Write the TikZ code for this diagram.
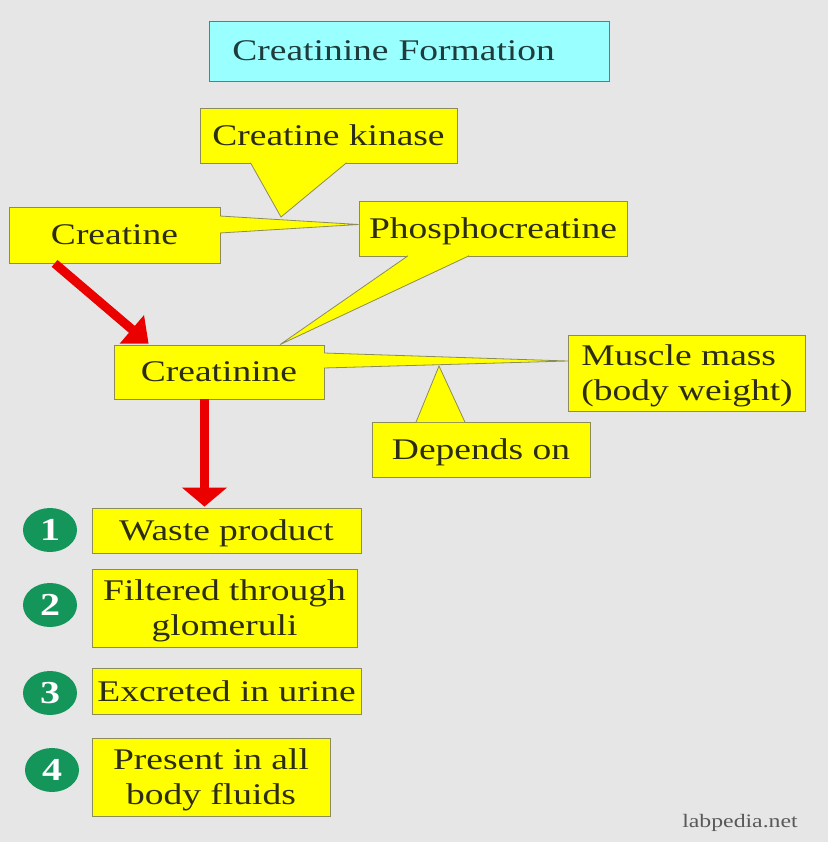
\documentclass[tikz,border=0pt]{standalone}
\usepackage{fontspec}
\setmainfont{Liberation Serif}[FakeStretch=1.25]
\usetikzlibrary{arrows.meta,shapes.geometric}
\definecolor{slidebg}{RGB}{230,230,230}
\definecolor{callfill}{RGB}{255,255,0}
\definecolor{callline}{RGB}{140,140,90}
\definecolor{titlefill}{RGB}{153,255,255}
\definecolor{titleline}{RGB}{95,125,125}
\definecolor{inkdark}{RGB}{45,45,20}
\definecolor{titleink}{RGB}{30,60,60}
\definecolor{numgreen}{RGB}{20,150,90}
\definecolor{arrowred}{RGB}{235,0,0}
% callout tail: base point, base point, tip
\newcommand{\calltail}[3]{%
  \fill[callfill] #1 -- #3 -- #2 -- cycle;
  \draw[callline, line width=0.8pt] #1 -- #3 -- #2;}

\begin{document}
\begin{tikzpicture}[x=1pt, y=-1pt,
  box/.style={draw=callline, fill=callfill, line width=0.8pt, inner sep=0pt,
              align=center, text=inkdark, text depth=0pt, font=\fontsize{30}{35}\selectfont},
  titlebox/.style={box, fill=titlefill, draw=titleline, text=titleink},
  num/.style={ellipse, fill=numgreen, minimum width=54pt, minimum height=44pt,
              inner sep=0pt, text=white, font=\fontsize{32}{32}\selectfont\bfseries},
  arr/.style={line width=9pt, draw=arrowred},
]
\fill[slidebg] (0,0) rectangle (828,842);
\useasboundingbox (0,0) rectangle (828,842);
% title
\node[titlebox, anchor=west, inner xsep=23pt, text width=354pt, align=left,
      minimum height=60pt] (title) at (209,51) {Creatinine Formation};
% upper callouts
\node[box, minimum width=257pt, minimum height=55pt] (kin)  at (328.5,135.5) {Creatine kinase};
\node[box, minimum width=211pt, minimum height=56pt] (crea) at (114.5,235)   {Creatine};
\node[box, minimum width=268pt, minimum height=55pt] (phos) at (493,228.5)   {Phosphocreatine};
\node[box, minimum width=210pt, minimum height=54pt] (creat) at (219,372)    {Creatinine};
\node[box, minimum width=237pt, minimum height=76pt, align=left] (muscle) at (687,373) {Muscle mass\\(body weight)};
\node[box, minimum width=218pt, minimum height=55pt] (dep)  at (481,449.5)   {Depends on};
\coordinate (kinTip) at (281,217);
\coordinate (depTip) at (439,366);
% tails
\calltail{([xshift=-0.6pt,yshift=19pt]crea.east)}{([xshift=-0.6pt,yshift=2pt]crea.east)}{([yshift=4pt]phos.west)}
\calltail{([xshift=-78pt,yshift=0.6pt]kin.south)}{([xshift=18pt,yshift=0.6pt]kin.south)}{(kinTip)}
\calltail{([xshift=-85pt,yshift=0.6pt]phos.south)}{([xshift=-24pt,yshift=0.6pt]phos.south)}{([xshift=61pt]creat.north)}
\calltail{([xshift=-0.6pt,yshift=19pt]creat.east)}{([xshift=-0.6pt,yshift=4pt]creat.east)}{([yshift=12pt]muscle.west)}
\calltail{([xshift=-65pt,yshift=-0.6pt]dep.north)}{([xshift=-16pt,yshift=-0.6pt]dep.north)}{(depTip)}
% properties list
\node[box, minimum width=269pt, minimum height=45pt] (waste) at (226.5,530.5) {Waste product};
\node[box, minimum width=265pt, minimum height=78pt] (filt)  at (224.5,608)   {Filtered through\\glomeruli};
\node[box, minimum width=269pt, minimum height=46pt] (excr)  at (226.5,691)   {Excreted in urine};
\node[box, minimum width=238pt, minimum height=78pt] (pres)  at (211,777)     {Present in all\\body fluids};
\node[num] (n1) at (50,530) {1};
\node[num] (n2) at (50,605) {2};
\node[num] (n3) at (50,693) {3};
\node[num] (n4) at (52,770) {4};
% red arrows
\draw[arr, -{Triangle[length=22pt,width=36pt]}] ([xshift=46pt]crea.south west) -- ([xshift=35pt,yshift=1pt]creat.north west);
\draw[arr, -{Triangle[length=19pt,width=44pt]}] ([xshift=-14.5pt]creat.south) -- ([xshift=-22pt,yshift=1pt]waste.north);
\node[font=\fontsize{19}{19}\selectfont, text=black!65] (credit) at (740,823) {labpedia.net};
\end{tikzpicture}
\end{document}
